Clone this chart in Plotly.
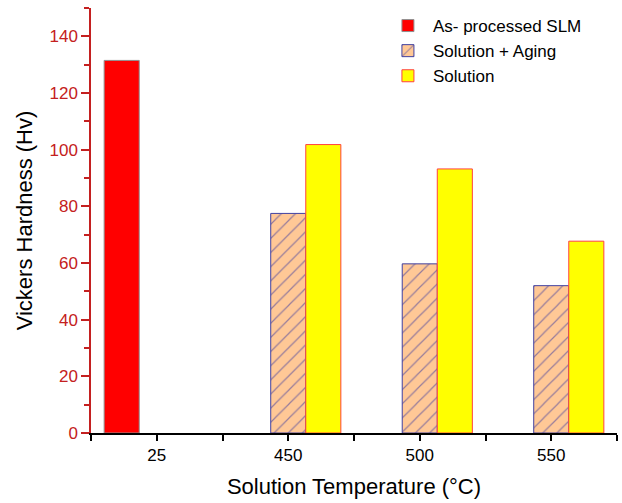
import plotly.graph_objects as go

categories = ["25", "450", "500", "550"]
as_processed = [131.5, None, None, None]
sol_aging = [None, 77.5, 59.7, 52.0]
solution = [None, 101.8, 93.2, 67.7]

xpos = list(range(len(categories)))
axis_red = "#C42020"

fig = go.Figure()
fig.add_trace(go.Bar(
    x=xpos, y=as_processed, name="As- processed SLM",
    marker=dict(color="#FF0000", line=dict(color="#909090", width=1)),
))
fig.add_trace(go.Bar(
    x=xpos, y=sol_aging, name="Solution + Aging",
    marker=dict(color="#FFC896", line=dict(color="#4040A0", width=1),
                pattern=dict(shape="/", fgcolor="#3030A0", bgcolor="#FFC896",
                             size=10, solidity=0.12)),
))
fig.add_trace(go.Bar(
    x=xpos, y=solution, name="Solution",
    marker=dict(color="#FFFF00", line=dict(color="#FF4040", width=1)),
))

fig.update_layout(
    width=622, height=503,
    margin=dict(l=91, r=5, t=8, b=70),
    paper_bgcolor="white", plot_bgcolor="white",
    barmode="group", bargap=0.2, bargroupgap=0,
    font=dict(family="Liberation Sans, Arial, sans-serif", color="black"),
    legend=dict(x=0.555, y=1.0, xanchor="left", yanchor="top",
                font=dict(size=17, color="black"),
                bgcolor="rgba(0,0,0,0)", tracegroupgap=0,
                itemwidth=40),
    showlegend=True,
)
fig.update_xaxes(
    range=[-0.5, 3.5],
    tickmode="array", tickvals=xpos, ticktext=categories,
    ticks="outside", ticklen=6, tickwidth=1.5, tickcolor="black",
    minor=dict(tickmode="array", tickvals=[-0.5, 0.5, 1.5, 2.5, 3.5],
               ticks="outside", ticklen=6, tickwidth=1.5, tickcolor="black"),
    showline=True, linecolor="black", linewidth=1.5,
    showgrid=False, zeroline=False,
    tickfont=dict(size=17, color="black"),
    title=dict(text="Solution Temperature (°C)", font=dict(size=22, color="black"),
               standoff=14),
)
fig.update_yaxes(
    range=[0, 150],
    tickmode="linear", tick0=0, dtick=20,
    ticks="outside", ticklen=8, tickwidth=1.5, tickcolor=axis_red,
    minor=dict(tickmode="linear", tick0=10, dtick=20, ticks="outside",
               ticklen=5, tickwidth=1.5, tickcolor=axis_red),
    showline=True, linecolor=axis_red, linewidth=1.5,
    showgrid=False, zeroline=False,
    tickfont=dict(size=17, color=axis_red),
    title=dict(text="Vickers Hardness (Hv)", font=dict(size=22, color="black"),
               standoff=11),
)

fig.write_html("out.html")
